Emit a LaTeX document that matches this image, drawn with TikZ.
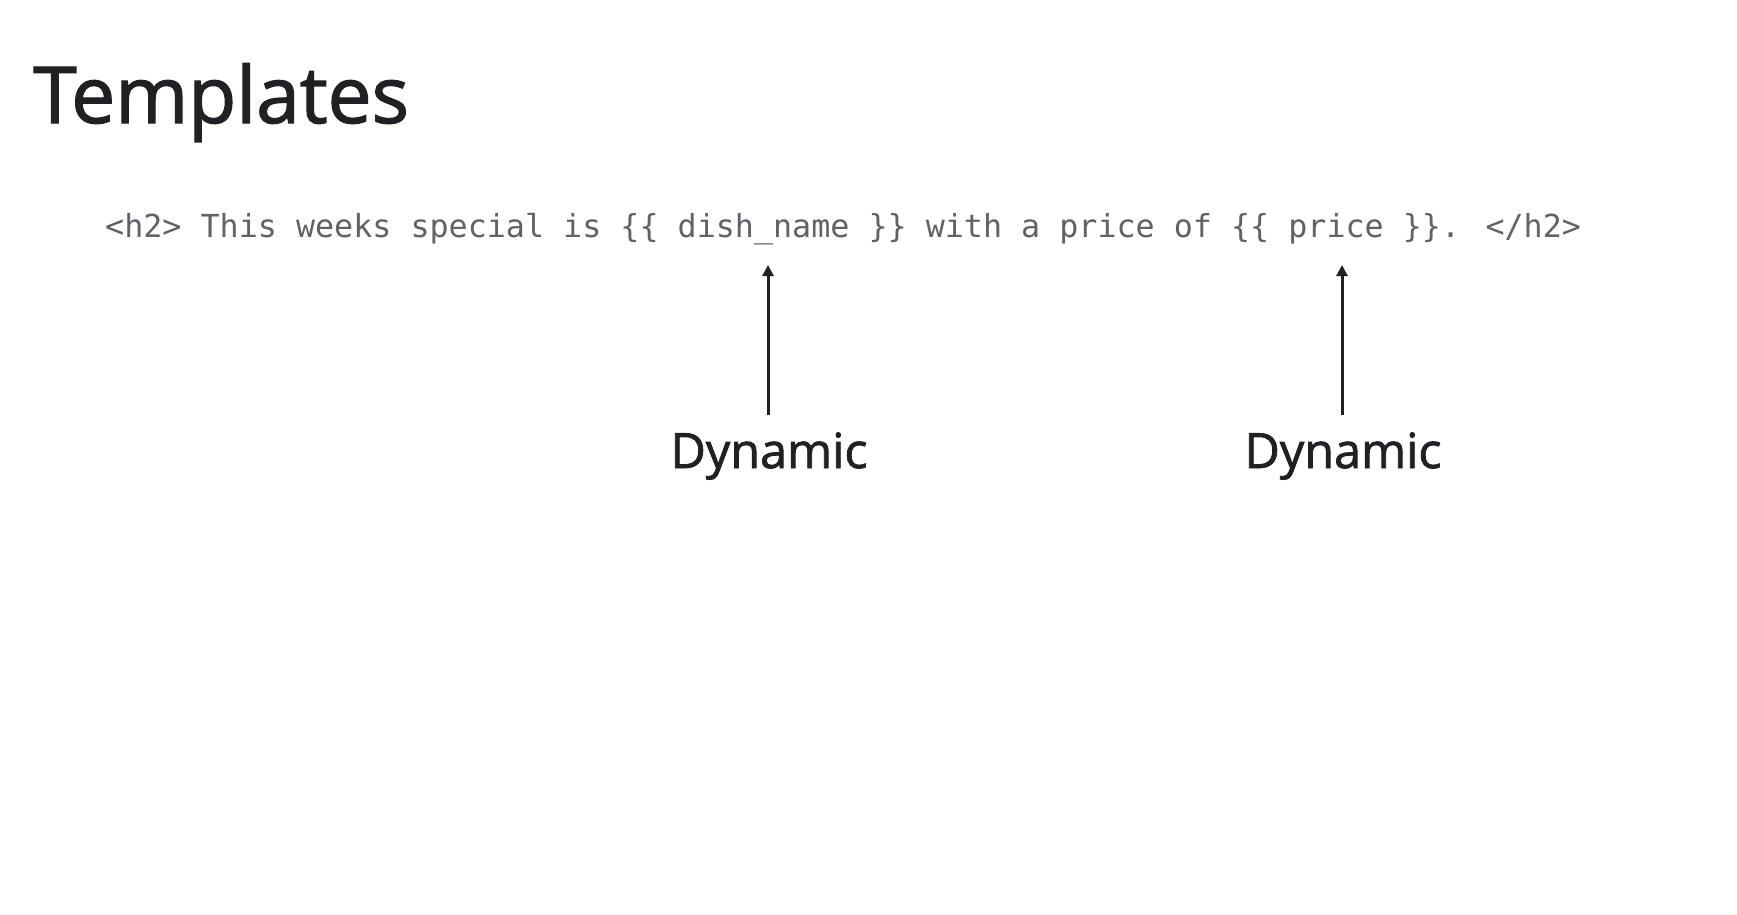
\documentclass[tikz,border=0pt]{standalone}
\usepackage{fontspec}
\setmainfont{Open Sans}
\newfontfamily\headfont[FakeBold=1.6]{Open Sans}
\newfontfamily\codefont{DejaVu Sans Mono}
\usetikzlibrary{arrows.meta}
\definecolor{ink}{HTML}{202124}
\definecolor{codegray}{HTML}{5F6368}
\tikzset{
  titletext/.style={inner sep=0pt, anchor=base west, text=ink, font=\headfont\fontsize{78.5}{82}\selectfont},
  codetext/.style={inner sep=0pt, anchor=base west, text=codegray, font=\codefont\fontsize{31.7}{36}\selectfont},
  dyntext/.style={inner xsep=0pt, inner ysep=17pt, anchor=base, text=ink, font=\headfont\fontsize{48.5}{52}\selectfont},
  pointer/.style={draw=ink, line width=3pt, -{Triangle[length=11pt,width=11pt]}}
}
\begin{document}
\begin{tikzpicture}[x=1pt,y=-1pt]
  \useasboundingbox[fill=white] (0,0) rectangle (1737,914);
  \node[titletext] (title) at (33,123) {Templates};
  \node[codetext] (code) at (105,237) {<h2> This weeks special is \{\{ dish\_name \}\} with a price of \{\{ price \}\}. </h2>};
  \coordinate (t1) at (768,265);
  \coordinate (t2) at (1342,265);
  \node[dyntext] (d1) at (769,468) {Dynamic};
  \node[dyntext] (d2) at (1343,468) {Dynamic};
  \draw[pointer] (d1.north -| t1) -- (t1);
  \draw[pointer] (d2.north -| t2) -- (t2);
\end{tikzpicture}
\end{document}
